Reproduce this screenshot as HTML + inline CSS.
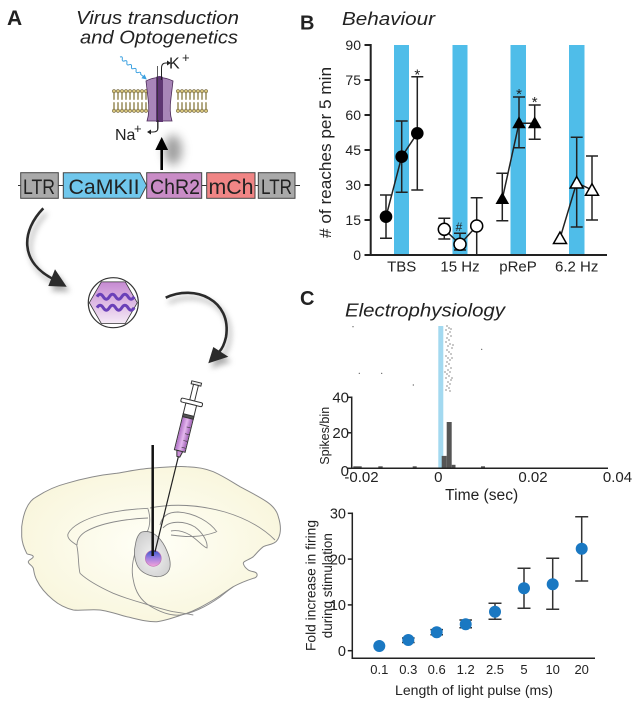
<!DOCTYPE html>
<html><head><meta charset="utf-8"><style>
html,body{margin:0;padding:0;background:#fff;}
svg{display:block;}
text{font-family:"Liberation Sans",Arial,sans-serif;fill:#222;}
</style></head><body>
<svg width="639" height="706" viewBox="0 0 639 706" xmlns="http://www.w3.org/2000/svg">
<defs>
<filter id="blur" x="-50%" y="-50%" width="200%" height="200%"><feGaussianBlur stdDeviation="3"/></filter>
<filter id="blur2" x="-80%" y="-80%" width="260%" height="260%"><feGaussianBlur stdDeviation="5"/></filter>
<linearGradient id="hexg" x1="0" y1="0" x2="0" y2="1"><stop offset="0" stop-color="#C68AD2"/><stop offset="1" stop-color="#F5EAF6"/></linearGradient>
<radialGradient id="brainG" cx="0.5" cy="0.5" r="0.6"><stop offset="0" stop-color="#FFFFF7"/><stop offset="1" stop-color="#F8F5DA"/></radialGradient>
<radialGradient id="blobG" cx="0.5" cy="0.55" r="0.6"><stop offset="0" stop-color="#F2F2F2"/><stop offset="1" stop-color="#CFCFCF"/></radialGradient>
<linearGradient id="liq" x1="0" y1="0" x2="1" y2="0"><stop offset="0" stop-color="#B070C6"/><stop offset="0.5" stop-color="#E4B8EE"/><stop offset="1" stop-color="#A262B8"/></linearGradient>
<linearGradient id="dotG" x1="0" y1="0" x2="0" y2="1"><stop offset="0" stop-color="#3556CC"/><stop offset="0.5" stop-color="#A07FE0"/><stop offset="1" stop-color="#F2A3DA"/></linearGradient>
<pattern id="lip" x="0" y="89" width="4" height="24" patternUnits="userSpaceOnUse">
<line x1="1.3" y1="4" x2="1.3" y2="10.8" stroke="#7d6d2d" stroke-width="0.6"/>
<line x1="2.7" y1="4" x2="2.7" y2="10.8" stroke="#7d6d2d" stroke-width="0.6"/>
<line x1="1.3" y1="13.2" x2="1.3" y2="20" stroke="#7d6d2d" stroke-width="0.6"/>
<line x1="2.7" y1="13.2" x2="2.7" y2="20" stroke="#7d6d2d" stroke-width="0.6"/>
<circle cx="2" cy="2.2" r="1.7" fill="#D6C47C" stroke="#4e4015" stroke-width="0.5"/>
<circle cx="2" cy="21.8" r="1.7" fill="#D6C47C" stroke="#4e4015" stroke-width="0.5"/>
</pattern>
</defs>

<!-- ================= PANEL A ================= -->
<text x="7" y="25" font-size="21" font-weight="bold">A</text>
<text x="76" y="24" font-size="18" font-style="italic" textLength="163" lengthAdjust="spacingAndGlyphs">Virus transduction</text>
<text x="80" y="43.5" font-size="18" font-style="italic" textLength="158" lengthAdjust="spacingAndGlyphs">and Optogenetics</text>

<!-- membrane -->
<rect x="112" y="89" width="36" height="24" fill="url(#lip)"/>
<rect x="176" y="89" width="32" height="24" fill="url(#lip)"/>
<!-- channel -->
<path d="M146,81 Q159,74 173,81 L171,98 Q169,112 172,121 L147,121 Q150,112 148,98 Z" fill="#A886B8" stroke="#4B2A58" stroke-width="0.8"/>
<path d="M156,77 Q159.5,75 163,77 L163,122 L156,122 Z" fill="#5E3672"/>
<line x1="157.5" y1="66" x2="157.5" y2="130" stroke="#333" stroke-width="0.8"/>
<path d="M161.5,80 L161.5,68 Q161.5,63 166,63 L168,63" fill="none" stroke="#222" stroke-width="1"/>
<polygon points="167,60.5 171,63 167,65.5" fill="#222"/>
<path d="M158,120 L158,128 Q158,132 153,132 L150,132" fill="none" stroke="#222" stroke-width="1"/>
<polygon points="151,129.5 147,132 151,134.5" fill="#222"/>
<!-- wavy light -->
<g transform="translate(120,57) rotate(40)">
<path d="M0,0 q1.5,-2.5 3,0 t3,0 t3,0 t3,0 t3,0 t3,0 t3,0 t3,0 t3,0 L31,0" fill="none" stroke="#3AA0E0" stroke-width="1"/>
<polygon points="30,-2.5 35,0 30,2.5" fill="#3AA0E0"/>
</g>
<text x="169" y="68.5" font-size="16">K</text><text x="182" y="62" font-size="13">+</text>
<text x="115" y="140" font-size="16">Na</text><text x="134" y="133" font-size="13">+</text>

<!-- up arrow with shadow -->
<ellipse cx="173" cy="150" rx="9" ry="15" fill="#777" opacity="0.7" filter="url(#blur2)"/>
<line x1="161.7" y1="170" x2="161.7" y2="147" stroke="#000" stroke-width="2.6"/>
<polygon points="155.3,150 168.1,150 161.7,137" fill="#000"/>

<!-- gene construct -->
<line x1="18" y1="185.5" x2="300" y2="185.5" stroke="#333" stroke-width="1"/>
<rect x="20.7" y="172.7" width="37.6" height="25.6" fill="#A9A9A9" stroke="#444" stroke-width="1"/>
<polygon points="63.3,172.7 140,172.7 146.7,185.5 140,198.3 63.3,198.3" fill="#70C7EC" stroke="#444" stroke-width="1"/>
<rect x="146.7" y="172.7" width="55" height="25.6" fill="#C98CC6" stroke="#444" stroke-width="1"/>
<rect x="206.7" y="172.7" width="48.3" height="25.6" fill="#F08585" stroke="#444" stroke-width="1"/>
<rect x="258.3" y="172.7" width="36.7" height="25.6" fill="#A9A9A9" stroke="#444" stroke-width="1"/>
<text x="23" y="194" font-size="21" textLength="32" lengthAdjust="spacingAndGlyphs">LTR</text>
<text x="68.5" y="194" font-size="21" textLength="71" lengthAdjust="spacingAndGlyphs">CaMKII</text>
<text x="150" y="194" font-size="21" textLength="50" lengthAdjust="spacingAndGlyphs">ChR2</text>
<text x="208.5" y="194" font-size="21" textLength="45" lengthAdjust="spacingAndGlyphs">mCh</text>
<text x="261" y="194" font-size="21" textLength="31" lengthAdjust="spacingAndGlyphs">LTR</text>

<!-- curved arrow 1 -->
<g transform="translate(3,5)" opacity="0.6" filter="url(#blur)">
<path d="M43.3,208.3 C22,230 18,262 55,280" fill="none" stroke="#777" stroke-width="3"/>
<polygon points="48.3,286 66.7,286.7 55,269.3" fill="#777"/>
</g>
<path d="M43.3,208.3 C22,230 18,262 55,280" fill="none" stroke="#2b2b2b" stroke-width="2.6"/>
<polygon points="48.3,286 66.7,286.7 55,269.3" fill="#2b2b2b"/>

<!-- virus -->
<circle cx="113.3" cy="302.7" r="25" fill="#fff" stroke="#333" stroke-width="1.2"/>
<polygon points="137.3,302.7 125.3,323.5 101.3,323.5 89.3,302.7 101.3,281.9 125.3,281.9" fill="url(#hexg)" stroke="#333" stroke-width="0.8"/>
<path d="M97,296.7 q3.1,-5 6.2,0 t6.2,0 t6.2,0 t6.2,0 t6.2,0 t6.2,0" fill="none" stroke="#6A40B8" stroke-width="3"/>
<path d="M97,307.7 q3.1,-5 6.2,0 t6.2,0 t6.2,0 t6.2,0 t6.2,0 t6.2,0" fill="none" stroke="#6A40B8" stroke-width="3"/>

<!-- curved arrow 2 -->
<g transform="translate(3,5)" opacity="0.6" filter="url(#blur)">
<path d="M165.7,297.7 C195,284 232,300 226,337 C224,346 221,350 219,352" fill="none" stroke="#777" stroke-width="3"/>
<polygon points="208.3,363.3 213.3,347 228.3,356.7" fill="#777"/>
</g>
<path d="M165.7,297.7 C195,284 232,300 226,337 C224,346 221,350 219,352" fill="none" stroke="#2b2b2b" stroke-width="2.6"/>
<polygon points="208.3,363.3 213.3,347 228.3,356.7" fill="#2b2b2b"/>

<!-- brain -->
<path d="M21.7,526.7 C24,508 30,500 36.7,496.7 C50,488 60,485 66.7,483.3 C85,478 100,475 116.7,473.3 C130,471 140,469 150,468.3 C165,467 178,466 186.7,466.7 C200,467 207,469 213.3,471.7 C225,477 232,482 240,486.7 C250,492 260,497 266.7,501.7 C273,506 277,511 278.3,516.7 C280,522 281,528 280,533.3 C279,538 277,542 273.3,543.3 C270,545 266,545 263.3,546.7 C259,550 256,554 253.3,556.7 C249,560 243,561 243.3,563.3 C244,567 247,569 248.3,570 C251,572 255,571 256.7,573.3 C258,576 256,578 253.3,578.3 C245,581 240,583 233.3,586.7 C225,592 220,596 213.3,600 C203,606 196,610 186.7,613.3 C175,617 165,621 156.7,621.7 C147,622 137,619 126.7,616.7 C117,614 108,611 100,610 C90,609 80,611 73.3,610 C65,608 58,604 53.3,600 C46,594 40,587 36.7,580 C34,575 34,571 33.3,568.3 C32,565 28,564 28.3,561.7 C29,559 33,559 33.3,556.7 C33,554 27,555 26.7,553.3 C24,548 22,542 21.7,536.7 Z" fill="url(#brainG)" stroke="#8a8a8a" stroke-width="1"/>
<g fill="none" stroke="#8a8a8a" stroke-width="0.9">
<path d="M148.3,508.3 C130,509 110,512 100,515 C85,519 72,526 68.3,533.3 C66,538 72,542 76.7,545 C79,555 78,565 80,573.3"/>
<path d="M148,518 C125,519 100,523 85,532 C79,536 77,541 77,545"/>
<path d="M80,573.3 C85,578 95,585 113.3,593.3 C125,598 135,601 143.3,603.3 C155,607 165,610 173.3,611.7 C182,613 188,614 193.3,615"/>
<path d="M136.7,548 C133,558 131,570 133.3,580 C135,590 140,600 150,606 C160,612 170,616 180,615 C195,613 210,604 220,597 C226,592 230,589 233.3,586.7"/>
<path d="M150,508 C175,503 200,505 225,512 C245,518 262,527 275,540"/>
<path d="M160,525 C162,516 168,512 178,512 C195,513 210,522 217,532"/>
<path d="M163,528 C170,520 185,521 195,527 C203,533 208,542 207,548 C203,547 198,540 190,535 C183,531 176,530 171,531"/>
<path d="M171,535 C185,537 200,538 216,532"/>
<path d="M147,532 C151,525 150,515 148,509"/>
</g>
<path d="M143.3,531.7 C152,530 160,537 165,546.7 C168,553 171,560 170,567 C169,574 162,577 156.7,576.7 C148,576 140,572 137,565 C134,558 134,550 135.5,544 C136.5,538 139,532 143.3,531.7 Z" fill="url(#blobG)" stroke="#777" stroke-width="0.8"/>
<circle cx="153.3" cy="558.3" r="8" fill="url(#dotG)" stroke="#C070B0" stroke-width="0.6"/>

<!-- electrode -->
<line x1="152.7" y1="445" x2="152.7" y2="556" stroke="#111" stroke-width="2.5"/>

<!-- syringe -->
<g transform="translate(196.7,382) rotate(13.8)" stroke="#333" stroke-width="1">
<rect x="-5" y="0" width="10" height="3" fill="#eee"/>
<rect x="-2.5" y="3" width="5" height="16" fill="#fff"/>
<rect x="-11" y="19" width="22" height="4" rx="1.5" fill="#fff"/>
<rect x="-5.5" y="23" width="11" height="48" fill="#fff"/>
<rect x="-5" y="37" width="10" height="33.5" fill="url(#liq)" stroke="none"/>
<rect x="-5.5" y="34" width="11" height="3" fill="#555"/>
<line x1="1" y1="46" x2="5" y2="46" stroke-width="0.6"/>
<line x1="1" y1="53" x2="5" y2="53" stroke-width="0.6"/>
<line x1="1" y1="60" x2="5" y2="60" stroke-width="0.6"/>
<line x1="1" y1="67" x2="5" y2="67" stroke-width="0.6"/>
<path d="M-3,71 L3,71 L1.5,77 L-1.5,77 Z" fill="#C98CD6"/>
<line x1="0" y1="77" x2="0" y2="175" stroke="#222" stroke-width="1.2"/>
</g>

<!-- ================= PANEL B ================= -->
<text x="300" y="29.5" font-size="20" font-weight="bold">B</text>
<text x="342" y="25" font-size="18" font-style="italic" textLength="93" lengthAdjust="spacingAndGlyphs">Behaviour</text>

<rect x="394" y="45" width="15" height="210" fill="#4FBDE9"/>
<rect x="452.5" y="45" width="15" height="210" fill="#4FBDE9"/>
<rect x="510.5" y="45" width="15.5" height="210" fill="#4FBDE9"/>
<rect x="569" y="45" width="15.5" height="210" fill="#4FBDE9"/>

<g stroke="#222" stroke-width="2">
<line x1="370.7" y1="44" x2="370.7" y2="256"/>
<line x1="369.7" y1="255" x2="607" y2="255"/>
<line x1="364.5" y1="255" x2="370.7" y2="255"/>
<line x1="364.5" y1="220" x2="370.7" y2="220"/>
<line x1="364.5" y1="185" x2="370.7" y2="185"/>
<line x1="364.5" y1="150" x2="370.7" y2="150"/>
<line x1="364.5" y1="115" x2="370.7" y2="115"/>
<line x1="364.5" y1="80" x2="370.7" y2="80"/>
<line x1="364.5" y1="45" x2="370.7" y2="45"/>
</g>
<g font-size="14" text-anchor="end">
<text x="361" y="260">0</text>
<text x="361" y="225">15</text>
<text x="361" y="190">30</text>
<text x="361" y="155">45</text>
<text x="361" y="120">60</text>
<text x="361" y="85">75</text>
<text x="361" y="50">90</text>
</g>
<g font-size="15" text-anchor="middle">
<text x="401.7" y="271.5">TBS</text>
<text x="460" y="271.5">15 Hz</text>
<text x="518" y="271.5">pReP</text>
<text x="576.7" y="271.5">6.2 Hz</text>
</g>
<text transform="translate(331,152.5) rotate(-90)" font-size="16.5" text-anchor="middle" textLength="171" lengthAdjust="spacingAndGlyphs"># of reaches per 5 min</text>

<!-- error bars B -->
<g stroke="#222" stroke-width="1.5" fill="none">
<path d="M386,238.3V195 M380,238.3H392 M380,195H392"/>
<path d="M401.7,192.3V121 M395.7,192.3H407.7 M395.7,121H407.7"/>
<path d="M417.3,190V76.7 M411.3,190H423.3 M411.3,76.7H423.3"/>
<path d="M444.3,239V218.3 M438.3,239H450.3 M438.3,218.3H450.3"/>
<path d="M460,250V233.3 M454,250H466 M454,233.3H466"/>
<path d="M476.7,255V197.7 M470.7,197.7H482.7"/>
<path d="M502.3,220.7V173.3 M496.3,220.7H508.3 M496.3,173.3H508.3"/>
<path d="M519,147.7V97 M513,147.7H525 M513,97H525"/>
<path d="M534.7,139.3V105 M528.7,139.3H540.7 M528.7,105H540.7"/>
<path d="M576.7,227V137.3 M570.7,227H582.7 M570.7,137.3H582.7"/>
<path d="M592,220V156 M586,220H598 M586,156H598"/>
</g>
<!-- series lines -->
<g stroke="#222" stroke-width="1.5" fill="none">
<polyline points="386,216.7 401.7,156.7 417.3,133.3"/>
<polyline points="444.3,229.3 460,244.3 476.7,226"/>
<polyline points="502.3,199 519,123.3 534.7,123.3"/>
<polyline points="560,238.3 576.7,182.7 592,190"/>
</g>
<!-- markers -->
<g fill="#000">
<circle cx="386" cy="216.7" r="6.3"/>
<circle cx="401.7" cy="156.7" r="6.3"/>
<circle cx="417.3" cy="133.3" r="6.3"/>
<polygon points="502.3,192 495.5,204 509.1,204"/>
<polygon points="519,116.3 512.2,128.3 525.8,128.3"/>
<polygon points="534.7,116.3 527.9,128.3 541.5,128.3"/>
</g>
<g fill="#fff" stroke="#000" stroke-width="1.5">
<circle cx="444.3" cy="229.3" r="6"/>
<circle cx="460" cy="244.3" r="6"/>
<circle cx="476.7" cy="226" r="6"/>
<polygon points="560,232 553.5,243.5 566.5,243.5"/>
<polygon points="576.7,176.5 570.2,188 583.2,188"/>
<polygon points="592,183.8 585.5,195.3 598.5,195.3"/>
</g>
<g font-size="15" text-anchor="middle">
<text x="417.3" y="79.5">*</text>
<text x="519" y="99">*</text>
<text x="534.7" y="107">*</text>
</g>
<text x="459" y="231" font-size="12" text-anchor="middle">#</text>

<!-- ================= PANEL C ================= -->
<text x="300" y="305" font-size="20" font-weight="bold">C</text>
<text x="345" y="316.7" font-size="18" font-style="italic" textLength="160" lengthAdjust="spacingAndGlyphs">Electrophysiology</text>

<rect x="438.3" y="326" width="5" height="142.3" fill="#A3D9F0"/>
<!-- raster dots -->
<g fill="#444">
<circle cx="447" cy="326" r="0.6"/><circle cx="449" cy="328" r="0.6"/><circle cx="446" cy="330" r="0.6"/><circle cx="450" cy="332" r="0.6"/>
<circle cx="448" cy="334" r="0.6"/><circle cx="451" cy="336" r="0.6"/><circle cx="447" cy="338" r="0.6"/><circle cx="449" cy="340" r="0.6"/>
<circle cx="446" cy="342" r="0.6"/><circle cx="450" cy="344" r="0.6"/><circle cx="448" cy="346" r="0.6"/><circle cx="452" cy="348" r="0.6"/>
<circle cx="447" cy="350" r="0.6"/><circle cx="449" cy="352" r="0.6"/><circle cx="451" cy="354" r="0.6"/><circle cx="446" cy="356" r="0.6"/>
<circle cx="448" cy="358" r="0.6"/><circle cx="450" cy="360" r="0.6"/><circle cx="447" cy="362" r="0.6"/><circle cx="449" cy="364" r="0.6"/>
<circle cx="446" cy="366" r="0.6"/><circle cx="451" cy="368" r="0.6"/><circle cx="448" cy="370" r="0.6"/><circle cx="450" cy="372" r="0.6"/>
<circle cx="447" cy="374" r="0.6"/><circle cx="449" cy="376" r="0.6"/><circle cx="446" cy="378" r="0.6"/><circle cx="451" cy="380" r="0.6"/>
<circle cx="448" cy="382" r="0.6"/><circle cx="450" cy="384" r="0.6"/><circle cx="447" cy="386" r="0.6"/><circle cx="449" cy="388" r="0.6"/>
<circle cx="446" cy="390" r="0.6"/><circle cx="450" cy="391" r="0.6"/><circle cx="452" cy="358" r="0.6"/><circle cx="445" cy="372" r="0.6"/>
<circle cx="452" cy="378" r="0.6"/><circle cx="453" cy="345" r="0.6"/><circle cx="451" cy="329" r="0.6"/>
<circle cx="353" cy="326.7" r="0.6"/><circle cx="481.7" cy="349.3" r="0.6"/><circle cx="359.3" cy="373.3" r="0.6"/>
<circle cx="381.7" cy="373.3" r="0.6"/><circle cx="413.3" cy="385" r="0.6"/>
</g>
<!-- histogram bars -->
<g fill="#555">
<rect x="353.3" y="466.3" width="8.4" height="2"/>
<rect x="378.3" y="466.3" width="4.4" height="2"/>
<rect x="412.7" y="466.3" width="4" height="2"/>
<rect x="441.7" y="455.9" width="5" height="12.4"/>
<rect x="446.7" y="422" width="5" height="46.3"/>
<rect x="451.7" y="464.8" width="3.8" height="3.5"/>
<rect x="481" y="466.3" width="4" height="2"/>
</g>
<g stroke="#222" stroke-width="1.5">
<line x1="351.7" y1="396.5" x2="351.7" y2="469"/>
<line x1="351" y1="468.3" x2="608" y2="468.3"/>
<line x1="347.5" y1="397.3" x2="351.7" y2="397.3"/>
<line x1="347.5" y1="432.8" x2="351.7" y2="432.8"/>
<line x1="347.5" y1="468.3" x2="351.7" y2="468.3"/>
</g>
<g font-size="15" text-anchor="end">
<text x="349" y="402.5">40</text>
<text x="349" y="438">20</text>
<text x="349" y="476">0</text>
</g>
<g font-size="15" text-anchor="middle">
<text x="361.5" y="482">-0.02</text>
<text x="438.3" y="482">0</text>
<text x="533" y="482">0.02</text>
<text x="617.5" y="482">0.04</text>
</g>
<text x="481.7" y="500" font-size="15.5" text-anchor="middle" textLength="73" lengthAdjust="spacingAndGlyphs">Time (sec)</text>
<text transform="translate(329,435.8) rotate(-90)" font-size="13" text-anchor="middle" textLength="58" lengthAdjust="spacingAndGlyphs">Spikes/bin</text>

<!-- bottom scatter -->
<g stroke="#222" stroke-width="1.5">
<line x1="352.3" y1="512.5" x2="352.3" y2="659"/>
<line x1="351.6" y1="658.3" x2="595" y2="658.3"/>
<line x1="347.8" y1="513.3" x2="352.3" y2="513.3"/>
<line x1="347.8" y1="559.1" x2="352.3" y2="559.1"/>
<line x1="347.8" y1="604.9" x2="352.3" y2="604.9"/>
<line x1="347.8" y1="650.7" x2="352.3" y2="650.7"/>
</g>
<g font-size="14.5" text-anchor="end">
<text x="346" y="518.5">30</text>
<text x="346" y="564.3">20</text>
<text x="346" y="610.1">10</text>
<text x="346" y="655.9">0</text>
</g>
<g stroke="#333" stroke-width="1.5" fill="none">
<path d="M408.3,642.5V638 M402,642.5H414.6 M402,638H414.6"/>
<path d="M436.7,634.7V629.6 M430.4,634.7H443 M430.4,629.6H443"/>
<path d="M465.7,627.8V620 M459.4,627.8H472 M459.4,620H472"/>
<path d="M495,619.3V603.3 M488.5,619.3H501.5 M488.5,603.3H501.5"/>
<path d="M524,608.3V568.3 M517.5,608.3H530.5 M517.5,568.3H530.5"/>
<path d="M552.7,609.3V558.3 M546.2,609.3H559.2 M546.2,558.3H559.2"/>
<path d="M581.7,581V516.7 M575.2,581H588.2 M575.2,516.7H588.2"/>
</g>
<g fill="#1A78C2">
<circle cx="379.3" cy="646" r="6"/>
<circle cx="408.3" cy="640" r="6"/>
<circle cx="436.7" cy="632.3" r="6"/>
<circle cx="465.7" cy="624.3" r="6"/>
<circle cx="495" cy="611.7" r="6"/>
<circle cx="524" cy="588.3" r="6"/>
<circle cx="552.7" cy="584.3" r="6"/>
<circle cx="581.7" cy="548.7" r="6"/>
</g>
<g font-size="13" text-anchor="middle">
<text x="379.3" y="674">0.1</text>
<text x="408.3" y="674">0.3</text>
<text x="436.7" y="674">0.6</text>
<text x="465.7" y="674">1.2</text>
<text x="495" y="674">2.5</text>
<text x="524" y="674">5</text>
<text x="552.7" y="674">10</text>
<text x="581.7" y="674">20</text>
</g>
<text x="474" y="695" font-size="14" text-anchor="middle" textLength="158" lengthAdjust="spacingAndGlyphs">Length of light pulse (ms)</text>
<text transform="translate(315.5,585.5) rotate(-90)" font-size="14" text-anchor="middle" textLength="131" lengthAdjust="spacingAndGlyphs">Fold increase in firing</text>
<text transform="translate(332,585.7) rotate(-90)" font-size="14" text-anchor="middle" textLength="105" lengthAdjust="spacingAndGlyphs">during stimulation</text>
</svg>
</body></html>
